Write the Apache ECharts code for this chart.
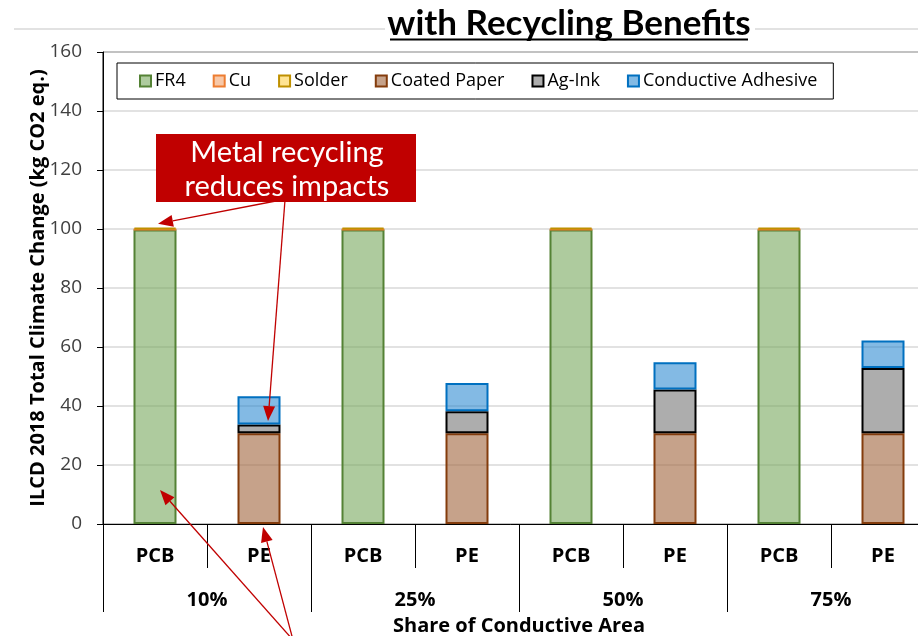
<!DOCTYPE html>
<html><head><meta charset="utf-8">
<script src="https://cdn.jsdelivr.net/npm/echarts@6/dist/echarts.min.js"></script>
<style>html,body{margin:0;padding:0;background:#fff}#c{width:918px;height:636px}</style>
</head><body><div id="c"></div>
<script>
const categories = ['PCB','PE','PCB','PE','PCB','PE','PCB','PE'];
const groups = ['10%','25%','50%','75%'];
const yTicks = [0,20,40,60,80,100,120,140,160];
const fr4 = [99.8, null, 99.8, null, 99.8, null, 99.8, null];
const cu = [0.1, null, 0.1, null, 0.1, null, 0.1, null];
const solder = [0.6, null, 0.6, null, 0.6, null, 0.6, null];
const coatedPaper = [null, 30.8, null, 30.8, null, 30.8, null, 30.8];
const agInk = [null, 2.9, null, 7.4, null, 14.8, null, 22.1];
const adhesive = [null, 9.6, null, 9.6, null, 9.2, null, 9.3];

const F = '"Open Sans", "DejaVu Sans", sans-serif';
const chart = echarts.init(document.getElementById('c'));

function bar(name, data, fill, border) {
  return { name, type: 'bar', stack: 's', data, barWidth: 43, xAxisIndex: 0,
    itemStyle: { color: fill, borderColor: border, borderWidth: 2 },
    emphasis: { disabled: true } };
}

chart.setOption({
  animation: false,
  grid: { left: 103, top: 52, width: 832, height: 472, show: true, borderColor: '#000', borderWidth: 1,
          containLabel: false, outerBoundsMode: 'none' },
  legend: {
    left: 117, top: 63, padding: [9, 16, 9, 22], itemGap: 27, itemWidth: 11, itemHeight: 11,
    borderColor: '#000', borderWidth: 1, icon: 'rect',
    textStyle: { fontFamily: F, fontSize: 18, color: '#000', padding: [0, 0, 0, -1] },
    data: ['FR4','Cu','Solder','Coated Paper','Ag-Ink','Conductive Adhesive']
  },
  xAxis: [
    { type: 'category', data: categories, position: 'bottom', boundaryGap: true,
      axisLine: { show: true, lineStyle: { color: '#000', width: 1 } },
      axisTick: { show: true, length: 44, interval: 0, alignWithLabel: false, lineStyle: { color: '#000', width: 1 } },
      axisLabel: { interval: 0, margin: 22, fontFamily: F, fontSize: 20, fontWeight: 'bold', color: '#000' } },
    { type: 'category', data: groups, position: 'bottom', boundaryGap: true,
      axisLine: { show: false },
      axisTick: { show: true, length: 88, interval: 0, alignWithLabel: false, lineStyle: { color: '#000', width: 1 } },
      axisLabel: { interval: 0, margin: 66, fontFamily: F, fontSize: 20, fontWeight: 'bold', color: '#000' },
      name: 'Share of Conductive Area', nameLocation: 'middle', nameGap: 92, nameMoveOverlap: false,
      nameTextStyle: { fontFamily: F, fontSize: 20, fontWeight: 'bold', color: '#000' } }
  ],
  yAxis: {
    type: 'value', min: yTicks[0], max: yTicks[yTicks.length - 1], interval: 20,
    axisLine: { show: true, lineStyle: { color: '#000' } },
    axisTick: { show: true, length: 6, lineStyle: { color: '#000' } },
    axisLabel: { margin: 21, fontFamily: F, fontSize: 19, color: '#404040' },
    splitLine: { lineStyle: { color: '#d9d9d9', width: 1.5 } },
    name: 'ILCD 2018 Total Climate Change (kg CO2 eq.)', nameLocation: 'middle', nameGap: 55, nameMoveOverlap: false,
    nameTextStyle: { fontFamily: F, fontSize: 20, fontWeight: 'bold', color: '#000' }
  },
  series: [
    bar('FR4', fr4, 'rgba(112,163,84,0.57)', '#548235'),
    bar('Cu', cu, 'rgba(244,177,131,0.7)', '#ed7d31'),
    bar('Solder', solder, 'rgba(255,217,102,0.7)', '#bf9000'),
    bar('Coated Paper', coatedPaper, 'rgba(160,100,60,0.6)', '#843c0c'),
    bar('Ag-Ink', agInk, '#adadad', '#000'),
    bar('Conductive Adhesive', adhesive, 'rgba(30,130,205,0.55)', '#0070c0')
  ]
});

function px(ci, v) { return chart.convertToPixel({ xAxisIndex: 0, yAxisIndex: 0 }, [ci, v]); }
function arrow(x1, y1, x2, y2) {
  const a = Math.atan2(y2 - y1, x2 - x1), L = 15, W = 6;
  const bx = x2 - L * Math.cos(a), by = y2 - L * Math.sin(a);
  const nx = -Math.sin(a) * W, ny = Math.cos(a) * W;
  return [
    { type: 'line', shape: { x1, y1, x2: bx, y2: by }, style: { stroke: '#c00000', lineWidth: 1.3 }, z: 100 },
    { type: 'polygon', shape: { points: [[x2, y2], [bx + nx, by + ny], [bx - nx, by - ny]] }, style: { fill: '#c00000' }, z: 100 }
  ];
}
const t1 = px(0, 101.8), t2 = px(1, 34.9), t3 = px(0, 11.5), t4 = px(1, -1);
const els = [
  { type: 'line', shape: { x1: 14, y1: 29, x2: 918, y2: 29 }, style: { stroke: '#d9d9d9', lineWidth: 1.5 }, z: 1 },
  { type: 'rect', shape: { x: 385, y: 3, width: 370, height: 42 }, style: { fill: '#fff' }, z: 2 },
  { type: 'text', x: 569, y: 24, style: { text: 'with Recycling Benefits', fontFamily: 'Lato, sans-serif', fontWeight: 'bold', fontSize: 35, fill: '#000', align: 'center', verticalAlign: 'middle' }, z: 3 },
  { type: 'line', shape: { x1: 390, y1: 39.5, x2: 748, y2: 39.5 }, style: { stroke: '#000', lineWidth: 2 }, z: 3 },
  { type: 'rect', shape: { x: 156, y: 134, width: 260, height: 68 }, style: { fill: '#c00000' }, z: 90 },
  { type: 'text', x: 287, y: 170, style: { text: 'Metal recycling\nreduces impacts', fontFamily: 'Lato, sans-serif', fontSize: 29, lineHeight: 34, fill: '#fff', align: 'center', verticalAlign: 'middle' }, z: 91 }
];
els.push(...arrow(281, 200, t1[0] + 3, t1[1]));
els.push(...arrow(285, 200, t2[0] + 9, t2[1]));
els.push(...arrow(293, 640, t3[0] + 5, t3[1]));
els.push(...arrow(293, 640, t4[0] + 4, t4[1]));
chart.setOption({ graphic: { elements: els } });
</script>
</body></html>
